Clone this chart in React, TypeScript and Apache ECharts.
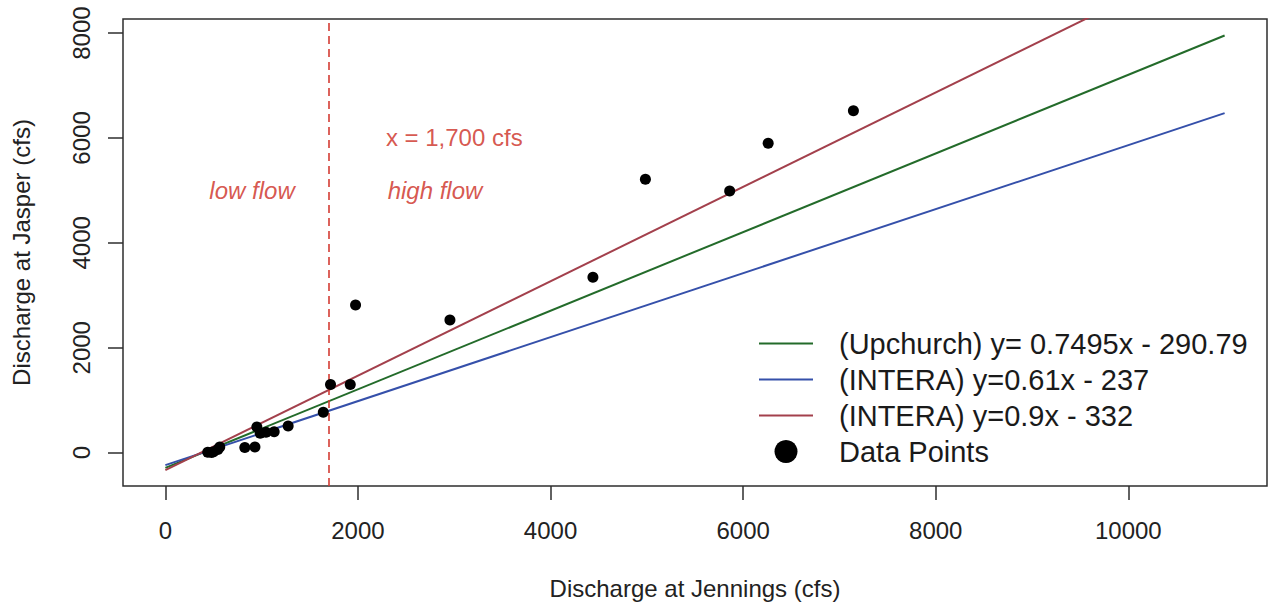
import React, { useEffect, useRef } from "react";
import * as echarts from "echarts";

const pointsX = [440, 480, 500, 545, 565, 825, 930, 950, 985, 1045, 1130, 1275, 1640, 1715, 1920, 1975, 2955, 4440, 4985, 5860, 6260, 7145];
const pointsY = [10, 5, 20, 60, 110, 100, 110, 490, 370, 390, 400, 510, 770, 1300, 1300, 2815, 2530, 3345, 5215, 4990, 5900, 6520];
const xTicks = [0, 2000, 4000, 6000, 8000, 10000];
const yTicks = [0, 2000, 4000, 6000, 8000];
const lineNames = ["(Upchurch) y= 0.7495x - 290.79", "(INTERA) y=0.61x - 237", "(INTERA) y=0.9x - 332"];
const lineSlopes = [0.7495, 0.61, 0.9];
const lineIntercepts = [-290.79, -237, -332];
const lineColors = ["#236b2a", "#3550aa", "#a3404c"];
const lineXRange = [0, 11000];
const thresholdX = 1700;
const pointsName = "Data Points";
const annotationX = [3000, 900, 2800];
const annotationY = [6000, 5000, 5000];
const annotationText = ["x = 1,700 cfs", "low flow", "high flow"];
const annotationItalic = [false, true, true];

const FONT = "'Liberation Sans', Arial, Helvetica, sans-serif";
const AXIS_COLOR = "#2e2e2e";
const RED = "#cc2c22";

export default function App() {
  const ref = useRef<HTMLDivElement>(null);
  useEffect(() => {
    if (!ref.current) return;
    const chart = echarts.init(ref.current, undefined, { renderer: "svg" });
    const lineSeries = lineNames.map((name, i) => ({
      name,
      type: "line",
      data: lineXRange.map((x) => [x, lineSlopes[i] * x + lineIntercepts[i]]),
      symbol: "none",
      lineStyle: { color: lineColors[i], width: 2 },
      itemStyle: { color: lineColors[i] },
      clip: true,
      z: 2,
    }));
    const plain = (v: number) => String(v);
    chart.setOption({
      animation: false,
      backgroundColor: "#ffffff",
      textStyle: { fontFamily: FONT },
      grid: {
        left: 123,
        top: 19,
        right: 1,
        bottom: 119,
        show: true,
        borderColor: AXIS_COLOR,
        borderWidth: 1.5,
        backgroundColor: "transparent",
      },
      xAxis: {
        type: "value",
        min: -440,
        max: 11440,
        name: "Discharge at Jennings (cfs)",
        nameLocation: "middle",
        nameGap: 90,
        nameTextStyle: { fontSize: 24, color: "#222", fontFamily: FONT },
        axisLine: { show: false, onZero: false },
        splitLine: { show: false },
        axisTick: {
          show: true,
          inside: false,
          length: 14,
          customValues: xTicks,
          lineStyle: { color: AXIS_COLOR, width: 1.5 },
        },
        axisLabel: {
          show: true,
          customValues: xTicks,
          formatter: plain,
          margin: 32,
          fontSize: 24,
          color: "#222",
          fontFamily: FONT,
        },
      },
      yAxis: {
        type: "value",
        min: -635,
        max: 8268,
        name: "Discharge at Jasper (cfs)",
        nameLocation: "middle",
        nameGap: 90,
        nameRotate: 90,
        nameTextStyle: { fontSize: 24, color: "#222", fontFamily: FONT },
        axisLine: { show: false, onZero: false },
        splitLine: { show: false },
        axisTick: {
          show: true,
          inside: false,
          length: 15,
          customValues: yTicks,
          lineStyle: { color: AXIS_COLOR, width: 1.5 },
        },
        axisLabel: {
          show: true,
          customValues: yTicks,
          formatter: plain,
          rotate: 90,
          margin: 30,
          fontSize: 24,
          color: "#222",
          fontFamily: FONT,
        },
      },
      legend: {
        orient: "vertical",
        left: 758,
        top: 329,
        itemWidth: 54,
        itemHeight: 23,
        itemGap: 7,
        padding: 0,
        selectedMode: false,
        textStyle: { fontSize: 29, color: "#1a1a1a", fontFamily: FONT, padding: [0, 0, 0, 21] },
        data: [
          ...lineNames.map((n) => ({ name: n, itemStyle: { opacity: 0 } })),
          { name: pointsName, icon: "circle", itemStyle: { color: "#000" } },
        ],
      },
      series: [
        ...lineSeries,
        {
          name: "threshold",
          type: "line",
          data: [],
          markLine: {
            silent: true,
            symbol: "none",
            label: { show: false },
            lineStyle: { color: "#d43c34", width: 1.6, type: [8, 5] },
            data: [{ xAxis: thresholdX }],
          },
        },
        {
          name: "annotations",
          type: "scatter",
          symbol: "circle",
          symbolSize: 1,
          itemStyle: { color: "transparent" },
          data: annotationText.map((t, i) => ({
            value: [annotationX[i], annotationY[i]],
            name: t,
            label: {
              show: true,
              position: "inside",
              formatter: t,
              fontSize: 24,
              color: RED,
              fontFamily: FONT,
              fontStyle: annotationItalic[i] ? "italic" : "normal",
            },
          })),
          z: 3,
        },
        {
          name: pointsName,
          type: "scatter",
          symbol: "circle",
          symbolSize: 11,
          itemStyle: { color: "#000", opacity: 1 },
          data: pointsX.map((x, i) => [x, pointsY[i]]),
          z: 5,
        },
      ],
    });
    return () => chart.dispose();
  }, []);
  return (
    <div
      ref={ref}
      style={{ position: "fixed", left: 0, top: 0, width: 1268, height: 605 }}
    />
  );
}
